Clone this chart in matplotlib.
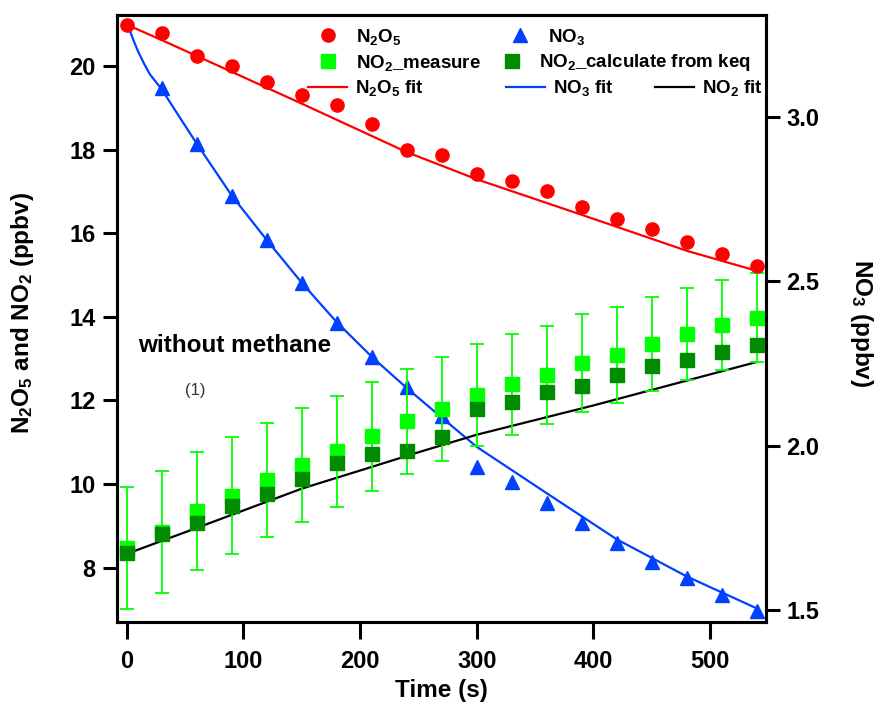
import matplotlib
matplotlib.use('Agg')
import matplotlib.pyplot as plt
from matplotlib.lines import Line2D
from matplotlib.ticker import FormatStrFormatter

plt.rcParams['font.family'] = ['Liberation Sans', 'DejaVu Sans']
plt.rcParams['font.weight'] = 'bold'
plt.rcParams['mathtext.fontset'] = 'custom'
plt.rcParams['mathtext.rm'] = 'Liberation Sans:bold'
plt.rcParams['mathtext.bf'] = 'Liberation Sans:bold'
plt.rcParams['mathtext.default'] = 'rm'

# measured points (s)
time = [0, 30, 60, 90, 120, 150, 180, 210, 240, 270, 300, 330, 360, 390, 420, 450, 480, 510, 540]
n2o5 = [20.99, 20.80, 20.23, 19.99, 19.61, 19.31, 19.07, 18.61, 18.00, 17.88,
        17.42, 17.24, 17.00, 16.62, 16.35, 16.10, 15.79, 15.50, 15.22]
no3_time = [30, 60, 90, 120, 150, 180, 210, 240, 270, 300, 330, 360, 390, 420, 450, 480, 510, 540]
no3 = [3.086, 2.917, 2.760, 2.625, 2.493, 2.372, 2.269, 2.177, 2.091,
       1.936, 1.890, 1.826, 1.764, 1.703, 1.647, 1.596, 1.546, 1.497]
no2_meas = [8.47, 8.86, 9.36, 9.72, 10.10, 10.46, 10.78, 11.14, 11.50, 11.80,
            12.12, 12.39, 12.61, 12.89, 13.09, 13.35, 13.59, 13.81, 13.98]
no2_err = [1.46, 1.46, 1.41, 1.40, 1.37, 1.36, 1.33, 1.30, 1.25, 1.24,
           1.22, 1.21, 1.18, 1.17, 1.15, 1.12, 1.11, 1.08, 1.06]
no2_calc = [8.36, 8.81, 9.06, 9.48, 9.77, 10.12, 10.50, 10.72, 10.80, 11.12,
            11.79, 11.97, 12.20, 12.35, 12.61, 12.83, 12.97, 13.17, 13.33]

# fit curves
n2o5_fit_t = [0, 30, 60, 150, 240, 300, 390, 480, 540]
n2o5_fit = [20.99, 20.62, 20.24, 19.10, 17.94, 17.29, 16.44, 15.58, 15.10]
no3_fit_t = [0, 3, 6, 10, 15, 20, 30, 45, 60, 90, 120, 150, 180, 210, 240, 270, 300, 360, 420, 480, 540]
no3_fit = [3.29, 3.258, 3.230, 3.196, 3.160, 3.128, 3.083, 3.0, 2.918, 2.76, 2.625, 2.495,
           2.375, 2.27, 2.175, 2.085, 1.996, 1.855, 1.715, 1.602, 1.505]
no2_fit_t = [0, 60, 150, 210, 250, 300, 400, 540]
no2_fit = [8.33, 8.95, 9.89, 10.41, 10.76, 11.18, 11.88, 12.92]

red = '#ff0000'
blue = '#0040ff'
lime = '#00ff00'
dgreen = '#008c00'

W, H = 889, 709
fig = plt.figure(figsize=(W / 100, H / 100), dpi=100)
ax1 = fig.add_axes([116.7 / W, 1 - 622 / H, 649 / W, 607 / H])
ax2 = ax1.twinx()
ax1.set_zorder(ax2.get_zorder() + 1)
ax1.patch.set_visible(False)

ax2.plot(no3_fit_t, no3_fit, color=blue, lw=1.6)
ax2.plot(no3_time, no3, '^', color=blue, ms=10.5, ls='none')

ax1.plot(n2o5_fit_t, n2o5_fit, color=red, lw=1.6)
ax1.plot(no2_fit_t, no2_fit, color='black', lw=1.6)
ax1.errorbar(time, no2_meas, yerr=no2_err, fmt='none', ecolor=lime,
             elinewidth=1.3, capsize=5, capthick=1.3)
ax1.plot(time, no2_meas, 's', color=lime, ms=10, ls='none')
ax1.plot(time, no2_calc, 's', color=dgreen, ms=10, ls='none')
ax1.plot(time, n2o5, 'o', color=red, ms=9.5, ls='none')

ax1.set_xlim(-8.6, 547.7)
ax1.set_ylim(6.70, 21.22)
ax2.set_ylim(1.4635, 3.309)
ax1.set_xticks([0, 100, 200, 300, 400, 500])
ax1.set_yticks([8, 10, 12, 14, 16, 18, 20])
ax2.set_yticks([1.5, 2.0, 2.5, 3.0])
ax2.yaxis.set_major_formatter(FormatStrFormatter('%.1f'))

for ax in (ax1, ax2):
    ax.tick_params(direction='out', length=10, width=2.2, labelsize=17, pad=5)
    for s in ax.spines.values():
        s.set_linewidth(2.2)
ax1.tick_params(axis='x', length=12, pad=8)

fig.text(23 / W, 1 - 313 / H, 'N$_2$O$_5$ and NO$_2$ (ppbv)', rotation=90,
         ha='center', va='center', fontsize=17.5)
fig.text(862 / W, 1 - 323 / H, 'NO$_3$ (ppbv)', rotation=270,
         ha='center', va='center', fontsize=17.5)
fig.text(441 / W, 1 - 690 / H, 'Time (s)', ha='center', va='center', fontsize=17.5)

fig.text(138.3 / W, 1 - 351.7 / H, 'without methane', ha='left', va='baseline', fontsize=17.5)
fig.text(185 / W, 1 - 390 / H, '(1)', ha='left', va='center', fontsize=12,
         fontweight='normal', color='#333333')

# legend, placed item by item like the original
h_n2o5 = Line2D([], [], marker='o', color=red, ls='none', ms=9.5)
h_no3 = Line2D([], [], marker='^', color=blue, ls='none', ms=10.5)
h_meas = Line2D([], [], marker='s', color=lime, ls='none', ms=10)
h_calc = Line2D([], [], marker='s', color=dgreen, ls='none', ms=10)
h_n2o5fit = Line2D([], [], color=red, lw=1.6)
h_no3fit = Line2D([], [], color=blue, lw=1.6)
h_no2fit = Line2D([], [], color='black', lw=1.6)

items = [
    (h_n2o5, 'N$_2$O$_5$', 308.5, 36.7),
    (h_no3, 'NO$_3$', 500.5, 36.7),
    (h_meas, 'NO$_2$_measure', 308.5, 62.7),
    (h_calc, 'NO$_2$_calculate from keq', 492.2, 62.7),
    (h_n2o5fit, 'N$_2$O$_5$ fit', 308, 88.3),
    (h_no3fit, 'NO$_3$ fit', 506, 88.3),
    (h_no2fit, 'NO$_2$ fit', 655, 88.3),
]
for h, lab, x, y in items:
    fig.legend(handles=[h], labels=[lab], loc='center left',
               bbox_to_anchor=(x / W, 1 - y / H), frameon=False,
               borderpad=0, borderaxespad=0, handlelength=2.1,
               handletextpad=0.42, fontsize=13.5)

fig.savefig('out.png', dpi=100)
